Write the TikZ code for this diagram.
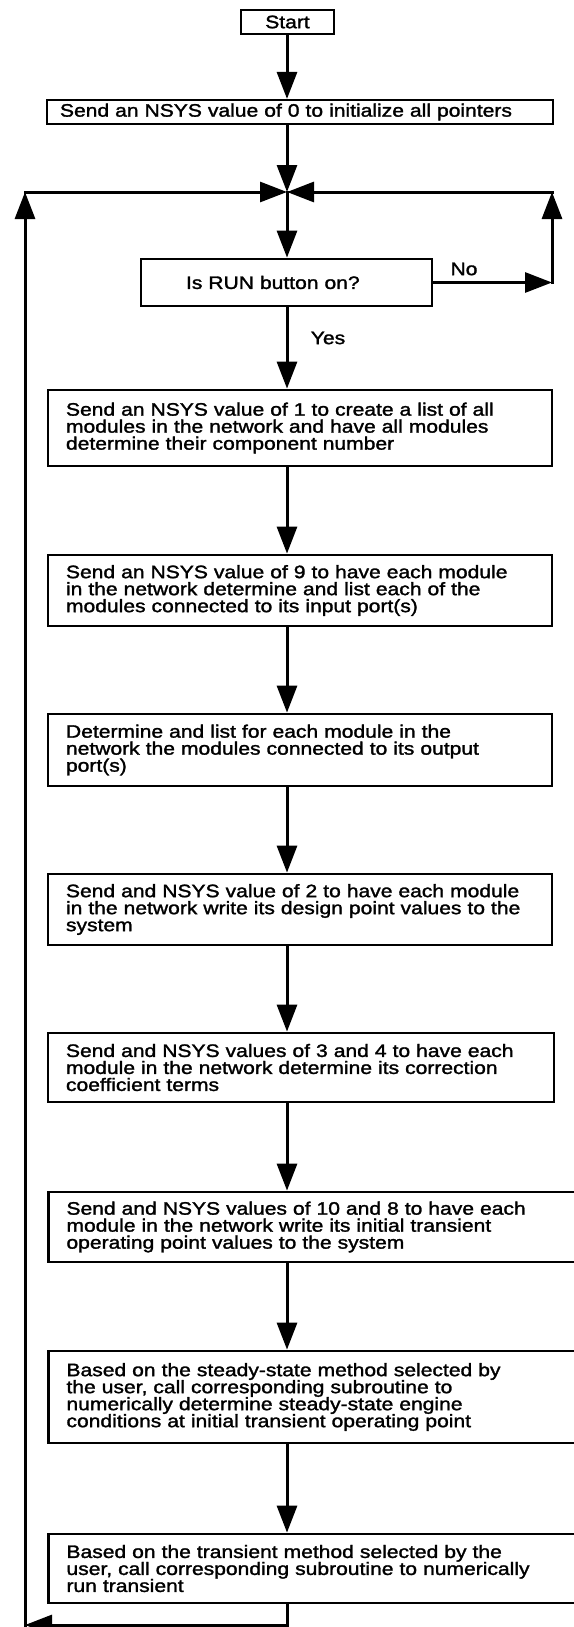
\documentclass[tikz,border=0pt]{standalone}
\usepackage{fontspec}
\setmainfont{Liberation Sans}[FakeStretch=1.17,FakeBold=1.6]
\usetikzlibrary{arrows.meta}
\newcommand{\boxfont}{\fontsize{18pt}{17pt}\selectfont}
\tikzset{
  box/.style={draw, line width=2.8pt, inner xsep=18pt, inner ysep=0pt,
    align=left, font=\boxfont},
  arr/.style={-{Triangle[length=27pt,width=20pt]}, line width=3pt, line cap=rect},
  lbl/.style={font=\boxfont, inner sep=0pt},
}
\begin{document}
\begin{tikzpicture}[x=1pt,y=-1pt]
      \path[fill=white,use as bounding box] (0,0) rectangle (573,1627);
      \node[box,line width=2.2pt,inner xsep=0pt,minimum width=93pt,minimum height=24pt] (start) at (287.5,22) {Start};
      \node[box,line width=2.2pt,inner xsep=13pt,text width=480pt,minimum height=24pt] (init) at (300,112) {Send an NSYS value of 0 to initialize all pointers};
      \node[box,inner xsep=45pt,text width=201pt,minimum height=47pt] (run) at (286.5,282.5) {Is RUN button on?};
      \node[box,text width=468pt,minimum height=76pt] (list) at (300,428) {Send an NSYS value of 1 to create a list of all\\modules in the network and have all modules\\determine their component number};
      \node[box,text width=468pt,minimum height=71pt] (inports) at (300,590.5) {Send an NSYS value of 9 to have each module\\in the network determine and list each of the\\modules connected to its input port(s)};
      \node[box,text width=468pt,minimum height=72pt] (outports) at (300,750) {Determine and list for each module in the\\network the modules connected to its output\\port(s)};
      \node[box,text width=468pt,minimum height=71pt] (design) at (300,909.5) {Send and NSYS value of 2 to have each module\\in the network write its design point values to the\\system};
      \node[box,text width=470pt,minimum height=69pt] (coeff) at (301,1067.5) {Send and NSYS values of 3 and 4 to have each\\module in the network determine its correction\\coefficient terms};
      \node[box,text width=506pt,minimum height=70pt] (initop) at (319.5,1227) {Send and NSYS values of 10 and 8 to have each\\module in the network write its initial transient\\operating point values to the system};
      \node[box,text width=506pt,minimum height=92pt] (steady) at (319.5,1397) {Based on the steady-state method selected by\\the user, call corresponding subroutine to\\numerically determine steady-state engine\\conditions at initial transient operating point};
      \node[box,text width=506pt,minimum height=69pt] (trans) at (319.5,1568.5) {Based on the transient method selected by the\\user, call corresponding subroutine to numerically\\run transient};
      \coordinate (jn) at (287,192);
      \coordinate (lc) at (25,192);
      \coordinate (rc) at (552,192);
      \coordinate (noc) at (run.east -| rc);
      \coordinate (bc) at (287,1625);
      \coordinate (blc) at (25,1625);
      \node[lbl] (no) at (464,269) {No};
      \node[lbl] (yes) at (328,338) {Yes};
      \begin{scope}[arr]
        \draw (start.south -| jn) to (init.north -| jn);
        \draw (init.south -| jn) to (jn);
        \draw (lc) to (jn);
        \draw (rc) to (jn);
        \draw (jn) to (run.north -| jn);
        \draw (run.east) to (noc);
        \draw (noc) to (rc);
        \draw (run.south -| jn) to (list.north -| jn);
        \draw (list.south -| jn) to (inports.north -| jn);
        \draw (inports.south -| jn) to (outports.north -| jn);
        \draw (outports.south -| jn) to (design.north -| jn);
        \draw (design.south -| jn) to (coeff.north -| jn);
        \draw (coeff.south -| jn) to (initop.north -| jn);
        \draw (initop.south -| jn) to (steady.north -| jn);
        \draw (steady.south -| jn) to (trans.north -| jn);
        \draw[-] (trans.south -| jn) to (bc);
        \draw (bc) to (blc);
        \draw (blc) to (lc);
      \end{scope}
    \end{tikzpicture}
\end{document}
